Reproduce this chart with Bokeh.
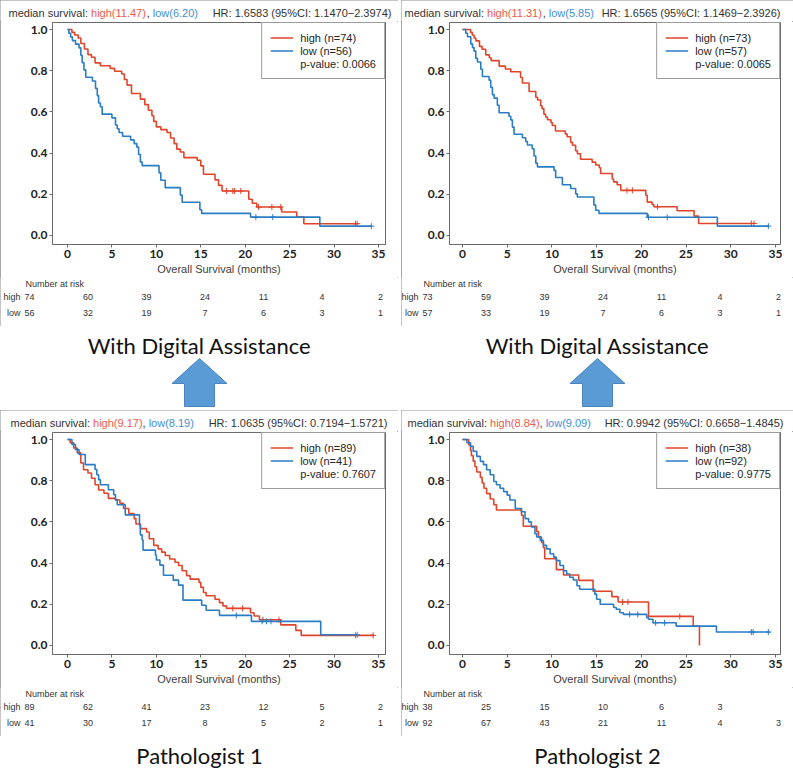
from bokeh.plotting import figure
from bokeh.layouts import column, row
from bokeh.models import Range1d, FixedTicker, NumeralTickFormatter, Legend, LegendItem
from bokeh.core.properties import value
from bokeh.embed import file_html
from bokeh.resources import INLINE

# ---------------- data ----------------
x_ticks = [0, 5, 10, 15, 20, 25, 30, 35]
y_ticks = [0.0, 0.2, 0.4, 0.6, 0.8, 1.0]
risk_times = [0, 5, 10, 15, 20, 25, 30]
x_label = "Overall Survival (months)"
captions = ["With Digital Assistance", "With Digital Assistance", "Pathologist 1", "Pathologist 2"]

# Panel 1 (top-left)
p1_high_t = [0, 0.5, 0.8, 1.2, 1.5, 1.9, 2.3, 2.7, 3.1, 3.7, 4.8, 5.3, 6.1, 6.4, 6.7, 7.2, 8.2, 8.7, 9.1, 9.5,
             9.7, 10.0, 10.5, 11.2, 11.6, 12.0, 12.3, 12.7, 13.1, 14.6, 15.0, 15.3, 16.6, 17.0, 17.4, 20.4,
             20.8, 21.3, 24.1, 25.8, 26.6]
p1_high_s = [1.0, 0.986, 0.973, 0.959, 0.932, 0.905, 0.878, 0.865, 0.838, 0.824, 0.811, 0.797, 0.784, 0.757,
             0.730, 0.689, 0.662, 0.635, 0.608, 0.581, 0.554, 0.527, 0.514, 0.500, 0.473, 0.446, 0.419, 0.405,
             0.378, 0.365, 0.338, 0.297, 0.270, 0.243, 0.216, 0.176, 0.156, 0.138, 0.114, 0.089, 0.057]
p1_high_end = 32.6
p1_high_cens = [17.9, 18.6, 18.8, 19.5, 21.5, 23.0, 24.0, 32.4, 32.6]
p1_low_t = [0, 0.15, 0.35, 0.55, 0.9, 1.3, 1.5, 1.65, 1.85, 2.05, 2.8, 3.15, 3.35, 3.5, 3.7, 3.9, 5.0, 5.4,
            5.6, 5.8, 6.2, 7.1, 7.5, 7.8, 8.0, 8.2, 8.4, 10.3, 10.5, 11.0, 12.7, 12.9, 14.9, 15.1, 20.6, 28.4]
p1_low_s = [1.0, 0.982, 0.964, 0.946, 0.929, 0.911, 0.875, 0.839, 0.804, 0.768, 0.750, 0.714, 0.679, 0.643,
            0.625, 0.589, 0.571, 0.536, 0.518, 0.500, 0.482, 0.464, 0.446, 0.429, 0.393, 0.357, 0.339, 0.304,
            0.268, 0.232, 0.196, 0.161, 0.125, 0.107, 0.089, 0.045]
p1_low_end = 34.2
p1_low_cens = [21.2, 23.1, 34.2]

# Panel 2 (top-right)
p2_high_t = [0, 0.9, 1.1, 1.3, 1.5, 1.9, 2.2, 2.6, 3.0, 3.2, 4.1, 4.8, 5.4, 6.5, 6.7, 7.45, 8.2, 8.4, 8.75,
             8.9, 9.1, 9.3, 9.5, 9.9, 10.05, 10.4, 11.5, 11.7, 12.1, 12.3, 12.65, 12.85, 13.2, 14.5, 14.9,
             15.3, 15.45, 16.75, 16.9, 17.3, 17.7, 20.5, 20.66, 21.2, 21.4, 24.0, 25.9, 26.4]
p2_high_s = [1.0, 0.986, 0.973, 0.959, 0.945, 0.918, 0.904, 0.877, 0.863, 0.849, 0.822, 0.808, 0.795, 0.767,
             0.740, 0.699, 0.671, 0.658, 0.630, 0.616, 0.589, 0.575, 0.562, 0.548, 0.534, 0.507, 0.493, 0.479,
             0.452, 0.438, 0.411, 0.397, 0.370, 0.356, 0.342, 0.329, 0.301, 0.274, 0.260, 0.246, 0.219, 0.195,
             0.162, 0.150, 0.139, 0.120, 0.094, 0.058]
p2_high_end = 32.6
p2_high_cens = [18.4, 19.0, 21.8, 32.3, 32.6]
p2_low_t = [0, 0.37, 0.56, 0.93, 1.12, 1.3, 1.49, 1.68, 2.05, 2.23, 2.98, 3.16, 3.35, 3.54, 3.9, 4.1, 5.2,
            5.4, 5.58, 5.77, 6.7, 7.07, 7.26, 7.8, 8.0, 8.2, 8.38, 10.24, 10.42, 11.17, 12.1, 12.66, 12.85,
            14.7, 14.9, 15.26, 20.66, 28.5]
p2_low_s = [1.0, 0.982, 0.965, 0.930, 0.912, 0.895, 0.860, 0.842, 0.807, 0.772, 0.754, 0.719, 0.684, 0.667,
            0.632, 0.596, 0.579, 0.561, 0.526, 0.491, 0.474, 0.456, 0.439, 0.421, 0.386, 0.351, 0.333, 0.316,
            0.281, 0.246, 0.228, 0.202, 0.187, 0.147, 0.122, 0.107, 0.088, 0.045]
p2_low_end = 34.25
p2_low_cens = [20.8, 22.9, 34.2]

# Panel 3 (bottom-left)
p3_high_t = [0, 0.3, 0.7, 1.1, 1.5, 1.8, 2.3, 2.7, 3.1, 3.5, 4.1, 4.6, 5.4, 5.9, 6.3, 6.9, 7.5, 7.7, 8.2, 8.9,
             9.2, 9.7, 10.2, 10.6, 11.0, 11.5, 12.1, 12.5, 12.9, 13.4, 13.8, 14.8, 15.0, 15.3, 15.6, 16.6,
             17.1, 17.5, 17.9, 20.6, 21.0, 21.6, 24.0, 25.7, 26.3]
p3_high_s = [1.0, 0.984, 0.959, 0.935, 0.886, 0.853, 0.837, 0.812, 0.78, 0.755, 0.739, 0.714, 0.706, 0.69,
             0.665, 0.641, 0.616, 0.59, 0.567, 0.551, 0.518, 0.486, 0.469, 0.453, 0.437, 0.42, 0.404, 0.388,
             0.363, 0.339, 0.322, 0.306, 0.282, 0.257, 0.241, 0.224, 0.208, 0.192, 0.18, 0.159, 0.143, 0.125,
             0.100, 0.073, 0.049]
p3_high_end = 34.5
p3_high_cens = [18.6, 19.7, 22.0, 23.8, 32.4, 34.4]
p3_low_t = [0, 0.5, 0.9, 1.3, 2.0, 3.1, 3.3, 3.5, 3.7, 4.6, 5.2, 5.4, 5.6, 6.5, 8.1, 8.2, 8.4, 8.5, 9.9, 10.0,
            10.4, 10.8, 11.9, 12.5, 13.0, 15.1, 15.6, 17.1, 20.7, 28.5]
p3_low_s = [1.0, 0.976, 0.951, 0.927, 0.878, 0.854, 0.829, 0.805, 0.780, 0.756, 0.732, 0.707, 0.683, 0.634,
            0.585, 0.537, 0.512, 0.463, 0.439, 0.415, 0.390, 0.341, 0.317, 0.293, 0.22, 0.195, 0.171, 0.146,
            0.117, 0.052]
p3_low_end = 32.6
p3_low_cens = [19.0, 21.9, 22.4, 22.9, 32.6]

# Panel 4 (bottom-right)
p4_high_t = [0, 0.7, 0.9, 1.0, 1.2, 1.4, 1.6, 2.0, 2.2, 2.4, 2.7, 3.1, 3.5, 3.8, 6.6, 6.8, 8.3, 8.5, 8.84,
             9.05, 9.2, 10.5, 11.3, 13.0, 14.6, 16.7, 17.4, 20.8, 25.8, 26.5]
p4_high_s = [1.0, 0.974, 0.947, 0.921, 0.895, 0.868, 0.842, 0.816, 0.789, 0.763, 0.737, 0.711, 0.684, 0.658,
             0.632, 0.579, 0.553, 0.526, 0.50, 0.474, 0.421, 0.368, 0.342, 0.316, 0.263, 0.237, 0.211, 0.141,
             0.094, 0.0]
p4_high_end = 26.5
p4_high_cens = [17.9, 18.5, 24.3]
p4_low_t = [0, 0.5, 0.9, 1.2, 1.6, 2.0, 2.35, 2.7, 3.1, 3.5, 3.8, 4.2, 4.6, 5.0, 5.3, 5.9, 6.6, 7.0, 7.4, 7.7,
            8.1, 8.3, 8.7, 9.05, 9.4, 9.8, 10.2, 10.5, 10.9, 11.3, 11.65, 12.0, 12.4, 12.8, 13.1, 14.8, 15.0,
            15.4, 16.9, 17.2, 17.6, 18.0, 20.6, 20.8, 21.3, 23.9, 28.4]
p4_low_s = [1.0, 0.984, 0.967, 0.943, 0.918, 0.894, 0.878, 0.853, 0.829, 0.796, 0.78, 0.763, 0.747, 0.73,
            0.706, 0.665, 0.649, 0.616, 0.6, 0.575, 0.543, 0.527, 0.51, 0.486, 0.469, 0.445, 0.429, 0.412,
            0.388, 0.363, 0.347, 0.331, 0.318, 0.29, 0.273, 0.249, 0.224, 0.2, 0.184, 0.176, 0.159, 0.151,
            0.135, 0.127, 0.11, 0.094, 0.065]
p4_low_end = 34.4
p4_low_cens = [18.7, 19.6, 21.6, 22.6, 32.3, 32.5, 34.2]

# header / legend / risk table texts
medians_high = ["11.47", "11.31", "9.17", "8.84"]
medians_low = ["6.20", "5.85", "8.19", "9.09"]
hr_texts = ["HR: 1.6583 (95%CI: 1.1470\u22122.3974)", "HR: 1.6565 (95%CI: 1.1469\u22122.3926)",
            "HR: 1.0635 (95%CI: 0.7194\u22121.5721)", "HR: 0.9942 (95%CI: 0.6658\u22121.4845)"]
n_high = [74, 73, 89, 38]
n_low = [56, 57, 41, 92]
p_values = ["0.0066", "0.0065", "0.7607", "0.9775"]
risk_high = [[74, 60, 39, 24, 11, 4, 2], [73, 59, 39, 24, 11, 4, 2],
             [89, 62, 41, 23, 12, 5, 2], [38, 25, 15, 10, 6, 3, None]]
risk_low = [[56, 32, 19, 7, 6, 3, 1], [57, 33, 19, 7, 6, 3, 1],
            [41, 30, 17, 8, 5, 2, 1], [92, 67, 43, 21, 11, 4, 3]]

curves = [
    (p1_high_t, p1_high_s, p1_high_end, p1_high_cens, p1_low_t, p1_low_s, p1_low_end, p1_low_cens),
    (p2_high_t, p2_high_s, p2_high_end, p2_high_cens, p2_low_t, p2_low_s, p2_low_end, p2_low_cens),
    (p3_high_t, p3_high_s, p3_high_end, p3_high_cens, p3_low_t, p3_low_s, p3_low_end, p3_low_cens),
    (p4_high_t, p4_high_s, p4_high_end, p4_high_cens, p4_low_t, p4_low_s, p4_low_end, p4_low_cens),
]

# ---------------- styling / layout ----------------
RED = "#E0452B"
BLUE = "#2A7CC4"
RED_TXT = "#EE5A48"
BLUE_TXT = "#3F8FD6"
GREY_TXT = "#333333"
FRAME = "#6b6b6b"
ARROW_FILL = "#5B9BD5"
ARROW_EDGE = "#4C84BC"
SANS = "Liberation Sans"
CAP_FONT = "Lato"
BORDER_STYLE = {"outline": "1px solid #8a8a8a", "outline-offset": "-1px"}

WIDTHS = [398, 392, 398, 392]          # panel widths (left, right)
GAP = 3
HDR_H, KM_H, RISK_H = 21, 256, 49      # panel = 326 px high
CAP_H, BOT_H = 84, 32
# per side: (frame left border, frame right border, x-range start, x-range end, risk table x of t=0)
SIDE = {0: (52, 13, -1.69, 35.79, 29.0), 1: (48, 13, -1.45, 35.56, 26.0)}
HDR_LEFT = [8, 3, 10, 6]
HDR_RIGHT = [7, 13, 11, 10]
RISK_PX = 11.7

ARIAL = {' ': 278, ',': 278, '.': 278, ':': 278, '(': 333, ')': 333, 'a': 556, 'd': 556, 'e': 556, 'g': 556,
         'h': 556, 'i': 222, 'l': 222, 'm': 833, 'n': 556, 'o': 556, 'r': 333, 's': 500, 'u': 556, 'v': 500,
         'w': 722}


def text_w(s, size):
    return sum(ARIAL.get(c, 556) for c in s) * size / 1000.0


def surv_at(t, times, surv):
    s = surv[0]
    for ti, si in zip(times, surv):
        if ti <= t:
            s = si
    return s


def plain_fig(w, h, xr, yr):
    f = figure(width=w, height=h, x_range=xr, y_range=yr, output_backend="svg", toolbar_location=None,
               x_axis_location=None, y_axis_location=None, min_border=0)
    f.xgrid.visible = False
    f.ygrid.visible = False
    f.outline_line_color = None
    f.background_fill_color = "white"
    f.border_fill_color = "white"
    return f


def header(i):
    W = WIDTHS[i]
    f = plain_fig(W, HDR_H, Range1d(0, W), Range1d(0, HDR_H))
    fs = 11
    y = HDR_H - 12
    x = HDR_LEFT[i]
    segs = [("median survival: ", GREY_TXT), ("high(%s)" % medians_high[i], RED_TXT), (", ", GREY_TXT),
            ("low(%s)" % medians_low[i], BLUE_TXT)]
    for s, c in segs:
        f.text(x=[x], y=[y], text=[s.rstrip()], text_color=c, text_font=value(SANS),
               text_font_size=value("%dpx" % fs), text_baseline="middle", text_align="left")
        x += text_w(s, fs)
    f.text(x=[W - HDR_RIGHT[i]], y=[y], text=[hr_texts[i]], text_color=GREY_TXT, text_font=value(SANS),
           text_font_size=value("%dpx" % fs), text_baseline="middle", text_align="right")
    return f


def km(i):
    W = WIDTHS[i]
    bl, br, x0, x1, _ = SIDE[i % 2]
    ht, hs, he, hc, lt, ls, le, lc = curves[i]
    p = figure(width=W, height=KM_H, x_range=Range1d(x0, x1), y_range=Range1d(-0.044, 1.034),
               output_backend="svg", toolbar_location=None, min_border_left=bl, min_border_right=br,
               min_border_top=1, min_border_bottom=0)
    p.xgrid.visible = False
    p.ygrid.visible = False
    p.outline_line_color = FRAME
    p.outline_line_width = 1
    p.background_fill_color = "white"
    p.border_fill_color = "white"
    for ax in (p.xaxis[0], p.yaxis[0]):
        ax.axis_line_color = FRAME
        ax.major_tick_line_color = FRAME
        ax.major_tick_out = 3
        ax.major_tick_in = 0
        ax.minor_tick_line_color = None
        ax.major_label_text_font = "Lato"
        ax.major_label_text_font_style = "bold"
        ax.major_label_text_font_size = "12px"
        ax.major_label_text_color = "#222222"
        ax.major_label_standoff = 2
    p.xaxis.ticker = FixedTicker(ticks=x_ticks)
    p.yaxis.ticker = FixedTicker(ticks=y_ticks)
    p.yaxis.formatter = NumeralTickFormatter(format="0.0")
    p.xaxis.axis_label = x_label
    p.xaxis.axis_label_text_font = SANS
    p.xaxis.axis_label_text_font_style = "normal"
    p.xaxis.axis_label_text_font_size = "11px"
    p.xaxis.axis_label_text_color = "#404040"
    p.xaxis.axis_label_standoff = 2

    rends = []
    for t, s, e, cens, col in ((ht, hs, he, hc, RED), (lt, ls, le, lc, BLUE)):
        xs = list(t) + [e]
        ys = list(s) + [s[-1]]
        rends.append(p.step(xs, ys, mode="after", line_color=col, line_width=1.6))
        cy = [surv_at(c, t, s) for c in cens]
        p.scatter(cens, cy, marker="cross", size=6, line_color=col, line_width=1)
    # invisible renderer that only carries the p-value line of the legend
    blank = p.step(list(ht) + [he], list(hs) + [hs[-1]], mode="after", line_alpha=0)

    legend = Legend(items=[LegendItem(label="high (n=%d)" % n_high[i], renderers=[rends[0]]),
                           LegendItem(label="low (n=%d)" % n_low[i], renderers=[rends[1]]),
                           LegendItem(label="p-value: %s" % p_values[i], renderers=[blank])],
                    location="top_right", margin=0, padding=8, spacing=0, label_height=13, glyph_height=13,
                    glyph_width=23, label_standoff=7, label_text_font=SANS, label_text_font_size="11px",
                    label_text_color="#262626", border_line_color="#3a3a3a", border_line_width=1.5,
                    background_fill_color="white", background_fill_alpha=1)
    p.add_layout(legend)
    return p


def risk(i):
    W = WIDTHS[i]
    rx0 = SIDE[i % 2][4]
    f = plain_fig(W, RISK_H, Range1d(-rx0 / RISK_PX, (W - rx0) / RISK_PX), Range1d(0, RISK_H))
    fs = value("9px")
    f.text(x=[-0.34], y=[RISK_H - 6], text=["Number at risk"], text_color=GREY_TXT, text_font=value(SANS),
           text_font_size=fs, text_baseline="middle", text_align="left")
    for label, vals, y in (("high", risk_high[i], RISK_H - 19), ("low", risk_low[i], RISK_H - 35)):
        f.text(x=[-0.77], y=[y], text=[label], text_color=GREY_TXT, text_font=value(SANS),
               text_font_size=fs, text_baseline="middle", text_align="right")
        xs = [t for t, v in zip(risk_times, vals) if v is not None]
        txt = [str(v) for v in vals if v is not None]
        f.text(x=xs, y=[y] * len(xs), text=txt, text_color=GREY_TXT, text_font=value(SANS),
               text_font_size=fs, text_baseline="middle", text_align="center")
    return f


def panel(i):
    # each figure sits in its own row so the column does not align their frames
    return column(row(header(i)), row(km(i)), row(risk(i)), spacing=0, styles=BORDER_STYLE)


def caption_mid(i):
    W = WIDTHS[i]
    f = plain_fig(W, CAP_H, Range1d(0, W), Range1d(0, CAP_H))
    c = W / 2
    f.text(x=[c], y=[CAP_H - 19], text=[captions[i]], text_color="#111111", text_font=value(CAP_FONT),
           text_font_size=value("22px"), text_baseline="middle", text_align="center")
    tip, base, bottom, hw, sw = CAP_H - 32, CAP_H - 57, 4, 27.5, 15
    f.patch([c, c + hw, c + sw, c + sw, c - sw, c - sw, c - hw], [tip, base, base, bottom, bottom, base, base],
            fill_color=ARROW_FILL, line_color=ARROW_EDGE, line_width=1)
    return f


def caption_bot(i):
    W = WIDTHS[i]
    f = plain_fig(W, BOT_H, Range1d(0, W), Range1d(0, BOT_H))
    f.text(x=[W / 2], y=[BOT_H - 19], text=[captions[i]], text_color="#111111", text_font=value(CAP_FONT),
           text_font_size=value("22px"), text_baseline="middle", text_align="center")
    return f


layout = column(
    row(panel(0), panel(1), spacing=GAP),
    row(row(caption_mid(0)), row(caption_mid(1)), spacing=GAP),
    row(panel(2), panel(3), spacing=GAP),
    row(row(caption_bot(2)), row(caption_bot(3)), spacing=GAP),
    spacing=0,
)

with open("out.html", "w") as fh:
    fh.write(file_html(layout, INLINE))
